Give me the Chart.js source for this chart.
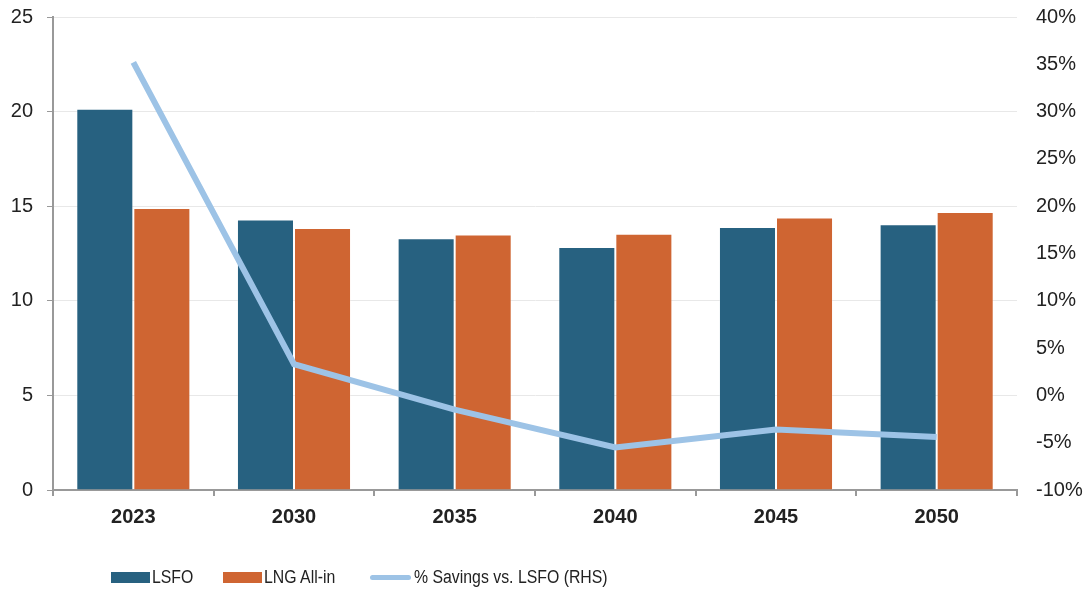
<!DOCTYPE html>
<html>
<head>
<meta charset="utf-8">
<script src="https://cdn.jsdelivr.net/npm/chart.js@4.4.0/dist/chart.umd.min.js"></script>
<style>
  html, body { margin: 0; padding: 0; background: #fff; }
  #wrap { position: relative; width: 1087px; height: 591px; }
  #legend { position: absolute; left: 0; top: 0; width: 1087px; height: 591px; pointer-events: none;
            font-family: "Liberation Sans", Arial, sans-serif; font-size: 18px; color: #222; }
  .sw { position: absolute; }
  .lbl { position: absolute; top: 566px; line-height: 22px; white-space: nowrap;
         transform: scaleX(0.88); transform-origin: left center; }
</style>
</head>
<body>
<div id="wrap">
  <canvas id="myChart" width="1087" height="591"></canvas>
  <div id="legend"></div>
</div>
<script>
const years = ['2023', '2030', '2035', '2040', '2045', '2050'];
const lsfo = [20.15, 14.3, 13.3, 12.85, 13.9, 14.05];
const lngAllIn = [14.9, 13.85, 13.5, 13.55, 14.4, 14.7];
const savingsPct = [35.2, 3.3, -1.5, -5.5, -3.6, -4.4];
const leftTicks = [0, 5, 10, 15, 20, 25];
const rightTicks = [-10, -5, 0, 5, 10, 15, 20, 25, 30, 35, 40];

const colLsfo = '#276180';
const colLng = '#CF6532';
const colLine = '#9DC3E6';

Chart.defaults.font.family = '"Liberation Sans", Arial, sans-serif';
Chart.defaults.color = '#222';

let ctx = document.getElementById('myChart').getContext('2d');

// fixed box sizes so the plot area lands where the original one is
function fixVertical(width) {
    return scale => {
        scale.width = width;
        scale.paddingTop = 0;
        scale.paddingBottom = 0;
    };
}

let chart = new Chart(ctx, {
    type: 'bar',
    data: {
        labels: years,
        datasets: [
            {
                type: 'line',
                label: '% Savings vs. LSFO (RHS)',
                data: savingsPct,
                yAxisID: 'y1',
                borderColor: colLine,
                backgroundColor: colLine,
                borderWidth: 6,
                pointRadius: 0,
                tension: 0,
                fill: false,
                order: 0
            },
            {
                label: 'LSFO',
                data: lsfo,
                yAxisID: 'y',
                backgroundColor: colLsfo,
                borderColor: 'rgba(255,255,255,0.3)',
                borderWidth: 1,
                categoryPercentage: 0.71,
                barPercentage: 1,
                order: 1
            },
            {
                label: 'LNG All-in',
                data: lngAllIn,
                yAxisID: 'y',
                backgroundColor: colLng,
                borderColor: 'rgba(255,255,255,0.3)',
                borderWidth: 1,
                categoryPercentage: 0.71,
                barPercentage: 1,
                order: 1
            }
        ]
    },
    options: {
        responsive: false,
        animation: false,
        layout: { padding: { top: 17, bottom: 51, left: 0, right: 0 } },
        plugins: {
            legend: { display: false },
            tooltip: { enabled: false }
        },
        scales: {
            x: {
                grid: {
                    offset: true,
                    drawOnChartArea: false,
                    tickColor: '#999',
                    tickLength: 6,
                    lineWidth: 2
                },
                border: { display: true, color: '#999', width: 2 },
                ticks: {
                    padding: 9,
                    font: { size: 20, weight: 'bold' },
                    color: '#222'
                },
                afterFit: scale => {
                    scale.height = 50;
                    scale.paddingLeft = 0;
                    scale.paddingRight = 0;
                }
            },
            y: {
                position: 'left',
                min: 0,
                max: 25,
                afterBuildTicks: scale => { scale.ticks = leftTicks.map(v => ({ value: v })); },
                grid: {
                    color: '#e8e8e8',
                    lineWidth: 1,
                    tickColor: '#999',
                    tickLength: 6
                },
                border: { display: true, color: '#999', width: 2 },
                ticks: {
                    padding: 14,
                    font: { size: 20 },
                    color: '#222'
                },
                afterFit: fixVertical(53)
            },
            y1: {
                position: 'right',
                min: -10,
                max: 40,
                afterBuildTicks: scale => { scale.ticks = rightTicks.map(v => ({ value: v })); },
                grid: { display: false, drawOnChartArea: false, drawTicks: false },
                border: { display: false },
                ticks: {
                    padding: 19,
                    font: { size: 20 },
                    color: '#222',
                    callback: v => v + '%'
                },
                afterFit: fixVertical(70)
            }
        }
    }
});

// legend drawn as html under the plot
const legendItems = [
    { kind: 'box', color: colLsfo, x: 111, text: 'LSFO', tx: 152 },
    { kind: 'box', color: colLng, x: 223, text: 'LNG All-in', tx: 264 },
    { kind: 'line', color: colLine, x: 370, text: '% Savings vs. LSFO (RHS)', tx: 414 }
];
const legend = document.getElementById('legend');
legendItems.forEach(item => {
    const sw = document.createElement('div');
    sw.className = 'sw';
    sw.style.background = item.color;
    sw.style.left = item.x + 'px';
    if (item.kind === 'box') {
        sw.style.top = '572px';
        sw.style.width = '39px';
        sw.style.height = '11px';
    } else {
        sw.style.top = '575px';
        sw.style.width = '41px';
        sw.style.height = '5px';
        sw.style.borderRadius = '3px';
    }
    legend.appendChild(sw);

    const t = document.createElement('div');
    t.className = 'lbl';
    t.style.left = item.tx + 'px';
    t.textContent = item.text;
    legend.appendChild(t);
});
</script>
</body>
</html>
